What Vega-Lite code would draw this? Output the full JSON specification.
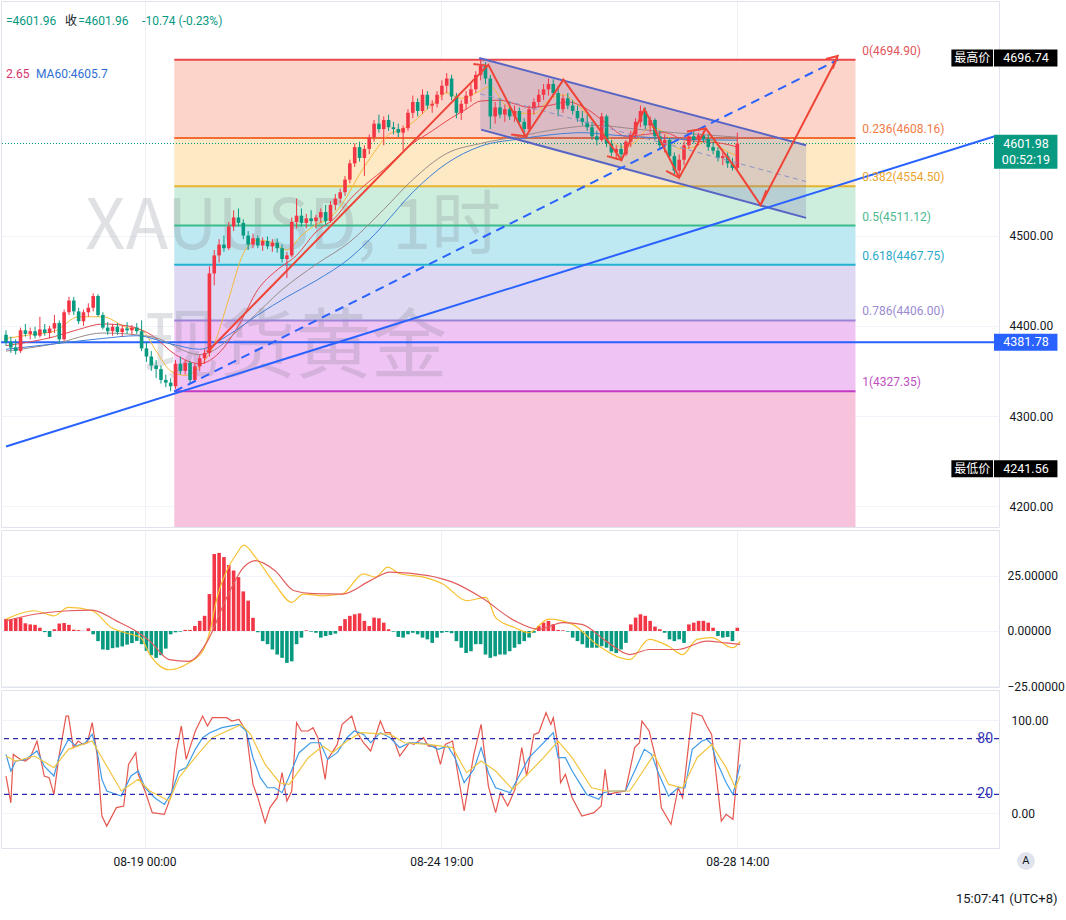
{
  "$schema": "https://vega.github.io/schema/vega-lite/v6.json",
  "padding": 0,
  "spacing": 3,
  "bounds": "flush",
  "background": "white",
  "config": {
    "view": {"stroke": "#e0e3eb", "strokeWidth": 1},
    "font": "Roboto, Noto Sans CJK SC",
    "axis": {"labelFont": "Roboto", "labelFontSize": 12, "labelColor": "#131722", "gridColor": "#f0f3fa", "domain": false, "ticks": false}
  },
  "datasets": {
    "candles": [
      {"i":0,"o":4390,"h":4395,"l":4378,"c":4382,"m":5.4},
      {"i":1,"o":4382,"h":4388,"l":4370,"c":4376,"m":5.4},
      {"i":2,"o":4376,"h":4385,"l":4368,"c":4372,"m":5.8},
      {"i":3,"o":4372,"h":4398,"l":4370,"c":4395,"m":6.1},
      {"i":4,"o":4395,"h":4402,"l":4388,"c":4391,"m":3.5},
      {"i":5,"o":4391,"h":4398,"l":4385,"c":4394,"m":3},
      {"i":6,"o":4394,"h":4399,"l":4386,"c":4389,"m":2.8},
      {"i":7,"o":4389,"h":4410,"l":4387,"c":4396,"m":1.5},
      {"i":8,"o":4396,"h":4402,"l":4389,"c":4392,"m":-0.5},
      {"i":9,"o":4392,"h":4400,"l":4386,"c":4397,"m":-2.7},
      {"i":10,"o":4397,"h":4412,"l":4392,"c":4403,"m":0.8},
      {"i":11,"o":4403,"h":4406,"l":4380,"c":4385,"m":3.4},
      {"i":12,"o":4385,"h":4418,"l":4383,"c":4415,"m":3.6},
      {"i":13,"o":4415,"h":4432,"l":4412,"c":4428,"m":2.8},
      {"i":14,"o":4428,"h":4432,"l":4412,"c":4416,"m":0.6},
      {"i":15,"o":4416,"h":4420,"l":4402,"c":4405,"m":0.4},
      {"i":16,"o":4405,"h":4418,"l":4400,"c":4415,"m":0.1},
      {"i":17,"o":4415,"h":4425,"l":4410,"c":4420,"m":1.2},
      {"i":18,"o":4420,"h":4436,"l":4416,"c":4433,"m":-1.5},
      {"i":19,"o":4433,"h":4435,"l":4410,"c":4412,"m":-4.6},
      {"i":20,"o":4412,"h":4415,"l":4396,"c":4398,"m":-8.4},
      {"i":21,"o":4398,"h":4404,"l":4390,"c":4394,"m":-8.6},
      {"i":22,"o":4394,"h":4402,"l":4389,"c":4399,"m":-7.8},
      {"i":23,"o":4399,"h":4403,"l":4390,"c":4393,"m":-7.5},
      {"i":24,"o":4393,"h":4400,"l":4388,"c":4397,"m":-7},
      {"i":25,"o":4397,"h":4404,"l":4391,"c":4395,"m":-6.2},
      {"i":26,"o":4395,"h":4401,"l":4390,"c":4398,"m":-5.5},
      {"i":27,"o":4398,"h":4403,"l":4391,"c":4394,"m":-4.5},
      {"i":28,"o":4394,"h":4406,"l":4372,"c":4375,"m":-6},
      {"i":29,"o":4375,"h":4382,"l":4360,"c":4366,"m":-9},
      {"i":30,"o":4366,"h":4372,"l":4350,"c":4356,"m":-11},
      {"i":31,"o":4356,"h":4362,"l":4342,"c":4352,"m":-12.2},
      {"i":32,"o":4352,"h":4356,"l":4336,"c":4340,"m":-11},
      {"i":33,"o":4340,"h":4346,"l":4332,"c":4337,"m":-8},
      {"i":34,"o":4337,"h":4342,"l":4327.4,"c":4333,"m":-1.5},
      {"i":35,"o":4333,"h":4362,"l":4330,"c":4358,"m":-0.6},
      {"i":36,"o":4358,"h":4366,"l":4346,"c":4350,"m":-0.3},
      {"i":37,"o":4350,"h":4362,"l":4346,"c":4359,"m":0.5},
      {"i":38,"o":4359,"h":4361,"l":4336,"c":4340,"m":0.5},
      {"i":39,"o":4340,"h":4358,"l":4338,"c":4355,"m":2.3},
      {"i":40,"o":4355,"h":4368,"l":4350,"c":4364,"m":4.6},
      {"i":41,"o":4364,"h":4374,"l":4358,"c":4370,"m":6.9},
      {"i":42,"o":4370,"h":4466,"l":4366,"c":4458,"m":16.8},
      {"i":43,"o":4458,"h":4484,"l":4445,"c":4478,"m":35},
      {"i":44,"o":4478,"h":4496,"l":4470,"c":4490,"m":35.5},
      {"i":45,"o":4490,"h":4500,"l":4482,"c":4486,"m":33.6},
      {"i":46,"o":4486,"h":4515,"l":4484,"c":4510,"m":30},
      {"i":47,"o":4510,"h":4528,"l":4505,"c":4520,"m":27.5},
      {"i":48,"o":4520,"h":4530,"l":4510,"c":4514,"m":24.5},
      {"i":49,"o":4514,"h":4518,"l":4496,"c":4500,"m":18},
      {"i":50,"o":4500,"h":4505,"l":4484,"c":4490,"m":13.8},
      {"i":51,"o":4490,"h":4502,"l":4486,"c":4497,"m":6},
      {"i":52,"o":4497,"h":4500,"l":4486,"c":4489,"m":-0.6},
      {"i":53,"o":4489,"h":4498,"l":4483,"c":4494,"m":-4.6},
      {"i":54,"o":4494,"h":4499,"l":4485,"c":4488,"m":-6},
      {"i":55,"o":4488,"h":4496,"l":4482,"c":4492,"m":-8.4},
      {"i":56,"o":4492,"h":4497,"l":4481,"c":4486,"m":-10.7},
      {"i":57,"o":4486,"h":4490,"l":4470,"c":4474,"m":-12.2},
      {"i":58,"o":4474,"h":4482,"l":4453,"c":4478,"m":-14.5},
      {"i":59,"o":4478,"h":4520,"l":4476,"c":4515,"m":-13.8},
      {"i":60,"o":4515,"h":4541,"l":4508,"c":4522,"m":-6},
      {"i":61,"o":4522,"h":4530,"l":4510,"c":4514,"m":-3},
      {"i":62,"o":4514,"h":4524,"l":4508,"c":4519,"m":0.3},
      {"i":63,"o":4519,"h":4528,"l":4512,"c":4516,"m":-0.3},
      {"i":64,"o":4516,"h":4523,"l":4508,"c":4520,"m":-0.8},
      {"i":65,"o":4520,"h":4530,"l":4514,"c":4526,"m":-3},
      {"i":66,"o":4526,"h":4534,"l":4512,"c":4516,"m":-2.3},
      {"i":67,"o":4516,"h":4538,"l":4514,"c":4534,"m":-1.8},
      {"i":68,"o":4534,"h":4546,"l":4528,"c":4541,"m":-1.2},
      {"i":69,"o":4541,"h":4552,"l":4536,"c":4548,"m":2.3},
      {"i":70,"o":4548,"h":4566,"l":4544,"c":4562,"m":5.4},
      {"i":71,"o":4562,"h":4584,"l":4558,"c":4580,"m":6.9},
      {"i":72,"o":4580,"h":4602,"l":4576,"c":4598,"m":7.6},
      {"i":73,"o":4598,"h":4604,"l":4582,"c":4586,"m":8},
      {"i":74,"o":4586,"h":4600,"l":4566,"c":4596,"m":4.6},
      {"i":75,"o":4596,"h":4612,"l":4590,"c":4609,"m":2.3},
      {"i":76,"o":4609,"h":4628,"l":4604,"c":4624,"m":6.1},
      {"i":77,"o":4624,"h":4634,"l":4614,"c":4618,"m":5.8},
      {"i":78,"o":4618,"h":4632,"l":4600,"c":4628,"m":3.8},
      {"i":79,"o":4628,"h":4634,"l":4616,"c":4620,"m":0.8},
      {"i":80,"o":4620,"h":4626,"l":4612,"c":4618,"m":-0.3},
      {"i":81,"o":4618,"h":4624,"l":4609,"c":4614,"m":-2.7},
      {"i":82,"o":4614,"h":4622,"l":4594,"c":4619,"m":-3},
      {"i":83,"o":4619,"h":4640,"l":4616,"c":4636,"m":-1.5},
      {"i":84,"o":4636,"h":4655,"l":4630,"c":4648,"m":-0.8},
      {"i":85,"o":4648,"h":4652,"l":4632,"c":4638,"m":-1.5},
      {"i":86,"o":4638,"h":4662,"l":4635,"c":4656,"m":-3},
      {"i":87,"o":4656,"h":4660,"l":4640,"c":4644,"m":-3.8},
      {"i":88,"o":4644,"h":4650,"l":4636,"c":4646,"m":-5.4},
      {"i":89,"o":4646,"h":4660,"l":4642,"c":4656,"m":-3},
      {"i":90,"o":4656,"h":4672,"l":4650,"c":4666,"m":-0.8},
      {"i":91,"o":4666,"h":4680,"l":4658,"c":4674,"m":-0.5},
      {"i":92,"o":4674,"h":4678,"l":4650,"c":4654,"m":-1},
      {"i":93,"o":4654,"h":4658,"l":4630,"c":4636,"m":-4.6},
      {"i":94,"o":4636,"h":4650,"l":4628,"c":4646,"m":-7.6},
      {"i":95,"o":4646,"h":4660,"l":4640,"c":4655,"m":-10},
      {"i":96,"o":4655,"h":4668,"l":4648,"c":4662,"m":-9.2},
      {"i":97,"o":4662,"h":4682,"l":4658,"c":4678,"m":-6},
      {"i":98,"o":4678,"h":4694.9,"l":4672,"c":4688,"m":-6},
      {"i":99,"o":4688,"h":4692,"l":4668,"c":4674,"m":-10.7},
      {"i":100,"o":4674,"h":4678,"l":4618,"c":4632,"m":-12.2},
      {"i":101,"o":4632,"h":4648,"l":4624,"c":4642,"m":-11.5},
      {"i":102,"o":4642,"h":4652,"l":4630,"c":4634,"m":-10.7},
      {"i":103,"o":4634,"h":4645,"l":4626,"c":4640,"m":-10.7},
      {"i":104,"o":4640,"h":4648,"l":4628,"c":4632,"m":-9.2},
      {"i":105,"o":4632,"h":4644,"l":4626,"c":4638,"m":-7.6},
      {"i":106,"o":4638,"h":4642,"l":4622,"c":4626,"m":-6},
      {"i":107,"o":4626,"h":4630,"l":4610,"c":4618,"m":-4.6},
      {"i":108,"o":4618,"h":4644,"l":4615,"c":4640,"m":-3},
      {"i":109,"o":4640,"h":4652,"l":4634,"c":4648,"m":-0.8},
      {"i":110,"o":4648,"h":4662,"l":4642,"c":4656,"m":2.3},
      {"i":111,"o":4656,"h":4668,"l":4650,"c":4662,"m":3.8},
      {"i":112,"o":4662,"h":4674,"l":4655,"c":4668,"m":4.6},
      {"i":113,"o":4668,"h":4673,"l":4654,"c":4658,"m":3.1},
      {"i":114,"o":4658,"h":4666,"l":4632,"c":4640,"m":0.5},
      {"i":115,"o":4640,"h":4656,"l":4636,"c":4652,"m":0.3},
      {"i":116,"o":4652,"h":4658,"l":4640,"c":4644,"m":-0.3},
      {"i":117,"o":4644,"h":4650,"l":4634,"c":4638,"m":-3},
      {"i":118,"o":4638,"h":4644,"l":4626,"c":4630,"m":-4.6},
      {"i":119,"o":4630,"h":4638,"l":4622,"c":4626,"m":-6},
      {"i":120,"o":4626,"h":4634,"l":4616,"c":4620,"m":-7.6},
      {"i":121,"o":4620,"h":4626,"l":4606,"c":4610,"m":-7.6},
      {"i":122,"o":4610,"h":4616,"l":4600,"c":4606,"m":-7.6},
      {"i":123,"o":4606,"h":4636,"l":4604,"c":4632,"m":-6.9},
      {"i":124,"o":4632,"h":4634,"l":4598,"c":4602,"m":-7.6},
      {"i":125,"o":4602,"h":4606,"l":4588,"c":4592,"m":-9.2},
      {"i":126,"o":4592,"h":4600,"l":4584,"c":4596,"m":-10},
      {"i":127,"o":4596,"h":4602,"l":4585,"c":4590,"m":-8.4},
      {"i":128,"o":4590,"h":4606,"l":4588,"c":4604,"m":-5.4},
      {"i":129,"o":4604,"h":4616,"l":4598,"c":4612,"m":3},
      {"i":130,"o":4612,"h":4630,"l":4608,"c":4626,"m":6.1},
      {"i":131,"o":4626,"h":4644,"l":4620,"c":4638,"m":7.6},
      {"i":132,"o":4638,"h":4642,"l":4618,"c":4622,"m":6.9},
      {"i":133,"o":4622,"h":4632,"l":4614,"c":4628,"m":4.6},
      {"i":134,"o":4628,"h":4630,"l":4606,"c":4610,"m":2},
      {"i":135,"o":4610,"h":4616,"l":4596,"c":4600,"m":0.8},
      {"i":136,"o":4600,"h":4612,"l":4592,"c":4606,"m":-0.8},
      {"i":137,"o":4606,"h":4608,"l":4584,"c":4588,"m":-3.8},
      {"i":138,"o":4588,"h":4592,"l":4566,"c":4572,"m":-4.6},
      {"i":139,"o":4572,"h":4590,"l":4564,"c":4584,"m":-3.8},
      {"i":140,"o":4584,"h":4604,"l":4578,"c":4600,"m":-5.4},
      {"i":141,"o":4600,"h":4614,"l":4596,"c":4610,"m":3},
      {"i":142,"o":4610,"h":4616,"l":4602,"c":4606,"m":3.8},
      {"i":143,"o":4606,"h":4614,"l":4600,"c":4611,"m":4.6},
      {"i":144,"o":4611,"h":4616,"l":4603,"c":4607,"m":4.6},
      {"i":145,"o":4607,"h":4612,"l":4594,"c":4598,"m":3.8},
      {"i":146,"o":4598,"h":4604,"l":4590,"c":4594,"m":1.5},
      {"i":147,"o":4594,"h":4598,"l":4582,"c":4586,"m":-2.3},
      {"i":148,"o":4586,"h":4592,"l":4578,"c":4588,"m":-3},
      {"i":149,"o":4588,"h":4592,"l":4575,"c":4580,"m":-2.7},
      {"i":150,"o":4580,"h":4586,"l":4572,"c":4575,"m":-4.6},
      {"i":151,"o":4575,"h":4614,"l":4572,"c":4601.96,"m":1.5}
    ],
    "ma": [
      {"s":"y","i":0,"p":4386},{"s":"y","i":5,"p":4390},{"s":"y","i":10,"p":4394},{"s":"y","i":15,"p":4410},{"s":"y","i":20,"p":4410},{"s":"y","i":25,"p":4398},{"s":"y","i":28,"p":4395},{"s":"y","i":31,"p":4372},{"s":"y","i":34,"p":4350},{"s":"y","i":37,"p":4345},{"s":"y","i":40,"p":4355},{"s":"y","i":43,"p":4380},{"s":"y","i":46,"p":4430},{"s":"y","i":49,"p":4480},{"s":"y","i":52,"p":4495},{"s":"y","i":55,"p":4492},{"s":"y","i":58,"p":4484},{"s":"y","i":61,"p":4500},{"s":"y","i":64,"p":4512},{"s":"y","i":67,"p":4520},{"s":"y","i":70,"p":4540},{"s":"y","i":73,"p":4568},{"s":"y","i":76,"p":4592},{"s":"y","i":79,"p":4612},{"s":"y","i":82,"p":4618},{"s":"y","i":85,"p":4630},{"s":"y","i":88,"p":4645},{"s":"y","i":91,"p":4658},{"s":"y","i":94,"p":4652},{"s":"y","i":97,"p":4658},{"s":"y","i":100,"p":4665},{"s":"y","i":103,"p":4645},{"s":"y","i":106,"p":4636},{"s":"y","i":109,"p":4635},{"s":"y","i":112,"p":4650},{"s":"y","i":115,"p":4656},{"s":"y","i":118,"p":4645},{"s":"y","i":121,"p":4628},{"s":"y","i":124,"p":4612},{"s":"y","i":127,"p":4598},{"s":"y","i":130,"p":4604},{"s":"y","i":133,"p":4620},{"s":"y","i":136,"p":4614},{"s":"y","i":139,"p":4596},{"s":"y","i":142,"p":4598},{"s":"y","i":145,"p":4606},{"s":"y","i":148,"p":4596},{"s":"y","i":151,"p":4588},
      {"s":"r","i":0,"p":4378},{"s":"r","i":10,"p":4388},{"s":"r","i":15,"p":4396},{"s":"r","i":20,"p":4402},{"s":"r","i":25,"p":4400},{"s":"r","i":30,"p":4390},{"s":"r","i":35,"p":4368},{"s":"r","i":40,"p":4358},{"s":"r","i":44,"p":4370},{"s":"r","i":48,"p":4400},{"s":"r","i":52,"p":4440},{"s":"r","i":56,"p":4462},{"s":"r","i":60,"p":4478},{"s":"r","i":64,"p":4504},{"s":"r","i":68,"p":4520},{"s":"r","i":71,"p":4540},{"s":"r","i":75,"p":4560},{"s":"r","i":78,"p":4573},{"s":"r","i":81,"p":4588},{"s":"r","i":84,"p":4602},{"s":"r","i":88,"p":4616},{"s":"r","i":91,"p":4627},{"s":"r","i":95,"p":4640},{"s":"r","i":98,"p":4649},{"s":"r","i":102,"p":4650},{"s":"r","i":105,"p":4646},{"s":"r","i":108,"p":4642},{"s":"r","i":112,"p":4644},{"s":"r","i":116,"p":4648},{"s":"r","i":120,"p":4640},{"s":"r","i":124,"p":4624},{"s":"r","i":128,"p":4610},{"s":"r","i":132,"p":4612},{"s":"r","i":136,"p":4614},{"s":"r","i":140,"p":4606},{"s":"r","i":144,"p":4604},{"s":"r","i":148,"p":4602},{"s":"r","i":151,"p":4598},
      {"s":"g","i":0,"p":4372},{"s":"g","i":10,"p":4380},{"s":"g","i":20,"p":4392},{"s":"g","i":30,"p":4388},{"s":"g","i":40,"p":4368},{"s":"g","i":50,"p":4405},{"s":"g","i":57,"p":4440},{"s":"g","i":64,"p":4468},{"s":"g","i":71,"p":4493},{"s":"g","i":78,"p":4529},{"s":"g","i":84,"p":4562},{"s":"g","i":91,"p":4591},{"s":"g","i":98,"p":4602},{"s":"g","i":106,"p":4610},{"s":"g","i":114,"p":4618},{"s":"g","i":122,"p":4622},{"s":"g","i":130,"p":4618},{"s":"g","i":138,"p":4614},{"s":"g","i":146,"p":4611},{"s":"g","i":151,"p":4609},
      {"s":"b","i":0,"p":4374},{"s":"b","i":10,"p":4380},{"s":"b","i":20,"p":4386},{"s":"b","i":27,"p":4389},{"s":"b","i":34,"p":4380},{"s":"b","i":40,"p":4374},{"s":"b","i":46,"p":4390},{"s":"b","i":52,"p":4412},{"s":"b","i":58,"p":4432},{"s":"b","i":64,"p":4450},{"s":"b","i":71,"p":4475},{"s":"b","i":78,"p":4512},{"s":"b","i":84,"p":4548},{"s":"b","i":91,"p":4580},{"s":"b","i":98,"p":4599},{"s":"b","i":106,"p":4607},{"s":"b","i":113,"p":4612},{"s":"b","i":119,"p":4614},{"s":"b","i":126,"p":4611},{"s":"b","i":132,"p":4609},{"s":"b","i":138,"p":4607},{"s":"b","i":145,"p":4606},{"s":"b","i":151,"p":4605.7}
    ],
    "macdl": [
      {"s":"dif","i":0,"v":5.4},{"s":"dif","i":5.9,"v":9.2},{"s":"dif","i":9.9,"v":6.9},{"s":"dif","i":12.9,"v":10.7},{"s":"dif","i":17.8,"v":9.2},{"s":"dif","i":21.8,"v":1.5},{"s":"dif","i":25.8,"v":-1.5},{"s":"dif","i":27.8,"v":-3},{"s":"dif","i":29.7,"v":-10.7},{"s":"dif","i":33.7,"v":-17.6},{"s":"dif","i":37.7,"v":-14.5},{"s":"dif","i":40.6,"v":-9.2},{"s":"dif","i":42.1,"v":0},{"s":"dif","i":43.6,"v":15.3},{"s":"dif","i":45.6,"v":27.5},{"s":"dif","i":47.6,"v":35},{"s":"dif","i":49.1,"v":39},{"s":"dif","i":51.5,"v":33.6},{"s":"dif","i":55.5,"v":21.4},{"s":"dif","i":59,"v":13},{"s":"dif","i":61.4,"v":16.8},{"s":"dif","i":65.4,"v":16},{"s":"dif","i":69.4,"v":16.8},{"s":"dif","i":73.8,"v":26},{"s":"dif","i":76.3,"v":24.5},{"s":"dif","i":78.8,"v":29},{"s":"dif","i":81.3,"v":26},{"s":"dif","i":86.2,"v":24.5},{"s":"dif","i":90.2,"v":21.4},{"s":"dif","i":95.1,"v":13.8},{"s":"dif","i":99.1,"v":15.3},{"s":"dif","i":101.1,"v":6.1},{"s":"dif","i":105.1,"v":1.5},{"s":"dif","i":108,"v":-0.8},{"s":"dif","i":112,"v":5.4},{"s":"dif","i":117,"v":3},{"s":"dif","i":121.9,"v":-6},{"s":"dif","i":126.9,"v":-12.2},{"s":"dif","i":128.8,"v":-13},{"s":"dif","i":132.8,"v":-3.8},{"s":"dif","i":136.8,"v":-6.9},{"s":"dif","i":139.7,"v":-10.7},{"s":"dif","i":142.7,"v":-3.8},{"s":"dif","i":145.7,"v":-3},{"s":"dif","i":150.1,"v":-7.6},{"s":"dif","i":151.6,"v":-4.6},
      {"s":"dea","i":0,"v":4.6},{"s":"dea","i":5.9,"v":7.6},{"s":"dea","i":12.9,"v":9.2},{"s":"dea","i":17.8,"v":9.5},{"s":"dea","i":22.8,"v":4.6},{"s":"dea","i":26.8,"v":0},{"s":"dea","i":29.7,"v":-4.6},{"s":"dea","i":33.7,"v":-13},{"s":"dea","i":37.7,"v":-13.8},{"s":"dea","i":41.6,"v":-4.6},{"s":"dea","i":45.6,"v":15.3},{"s":"dea","i":49.1,"v":29},{"s":"dea","i":51.5,"v":32},{"s":"dea","i":55.5,"v":27.5},{"s":"dea","i":59.5,"v":18.3},{"s":"dea","i":63.4,"v":17},{"s":"dea","i":69.4,"v":16.8},{"s":"dea","i":75.3,"v":23},{"s":"dea","i":79.3,"v":26.8},{"s":"dea","i":87.2,"v":25.2},{"s":"dea","i":92.2,"v":22.2},{"s":"dea","i":98.1,"v":15.3},{"s":"dea","i":105.1,"v":4.6},{"s":"dea","i":110,"v":0.8},{"s":"dea","i":115,"v":3.8},{"s":"dea","i":118.9,"v":3},{"s":"dea","i":123.9,"v":-4.6},{"s":"dea","i":128.8,"v":-10.7},{"s":"dea","i":132.8,"v":-8.4},{"s":"dea","i":138.8,"v":-8.4},{"s":"dea","i":144.7,"v":-4.6},{"s":"dea","i":148.7,"v":-5.4},{"s":"dea","i":151.6,"v":-6.1}
    ],
    "stoch": [
      {"s":"J","i":0,"v":39.8},{"s":"J","i":1,"v":11},{"s":"J","i":1.5,"v":63},{"s":"J","i":3,"v":57.7},{"s":"J","i":4,"v":55.9},{"s":"J","i":5,"v":59.5},{"s":"J","i":6.4,"v":77.4},{"s":"J","i":7.9,"v":39.8},{"s":"J","i":8.9,"v":38},{"s":"J","i":9.9,"v":20},{"s":"J","i":10.9,"v":59.5},{"s":"J","i":12.4,"v":104.3},{"s":"J","i":12.9,"v":104.3},{"s":"J","i":13.9,"v":70.3},{"s":"J","i":14.9,"v":77.4},{"s":"J","i":15.9,"v":73.8},{"s":"J","i":16.8,"v":75.6},{"s":"J","i":17.8,"v":97.2},{"s":"J","i":18.8,"v":63.1},{"s":"J","i":19.8,"v":-3.2},{"s":"J","i":20.8,"v":-14},{"s":"J","i":22.8,"v":5.8},{"s":"J","i":24.3,"v":7.6},{"s":"J","i":25.3,"v":52.3},{"s":"J","i":26.8,"v":64.9},{"s":"J","i":27.3,"v":41.6},{"s":"J","i":28.7,"v":23.7},{"s":"J","i":30.2,"v":0.4},{"s":"J","i":32.7,"v":-1.4},{"s":"J","i":34.2,"v":20},{"s":"J","i":35.2,"v":66.7},{"s":"J","i":36.2,"v":93.6},{"s":"J","i":37.2,"v":57.7},{"s":"J","i":38.2,"v":73.8},{"s":"J","i":39.1,"v":88.2},{"s":"J","i":40.6,"v":104.3},{"s":"J","i":41.6,"v":93.6},{"s":"J","i":42.6,"v":102.5},{"s":"J","i":45.6,"v":102.5},{"s":"J","i":46.6,"v":98.9},{"s":"J","i":48.1,"v":100.7},{"s":"J","i":49.6,"v":88.2},{"s":"J","i":51,"v":30.8},{"s":"J","i":52,"v":16.5},{"s":"J","i":53.5,"v":-10.4},{"s":"J","i":54.5,"v":5.8},{"s":"J","i":56,"v":16.5},{"s":"J","i":57,"v":43.4},{"s":"J","i":58,"v":12.9},{"s":"J","i":59,"v":23.7},{"s":"J","i":60,"v":97.2},{"s":"J","i":61,"v":88.2},{"s":"J","i":62.4,"v":88.2},{"s":"J","i":63.4,"v":91.8},{"s":"J","i":64.4,"v":81},{"s":"J","i":65.9,"v":36.2},{"s":"J","i":66.4,"v":57.7},{"s":"J","i":68.4,"v":73.8},{"s":"J","i":69.4,"v":95.3},{"s":"J","i":71.4,"v":104.3},{"s":"J","i":72.3,"v":88.2},{"s":"J","i":73.8,"v":75.6},{"s":"J","i":75.3,"v":66.7},{"s":"J","i":77.3,"v":98.9},{"s":"J","i":78.3,"v":86.4},{"s":"J","i":79.3,"v":86.4},{"s":"J","i":80.3,"v":75.6},{"s":"J","i":81.3,"v":61.3},{"s":"J","i":82.3,"v":68.5},{"s":"J","i":83.3,"v":75.6},{"s":"J","i":84.2,"v":73.8},{"s":"J","i":86.2,"v":81},{"s":"J","i":87.2,"v":72},{"s":"J","i":88.7,"v":72},{"s":"J","i":89.7,"v":52.3},{"s":"J","i":90.7,"v":73.8},{"s":"J","i":92.2,"v":77.4},{"s":"J","i":93.2,"v":45.2},{"s":"J","i":94.6,"v":2.2},{"s":"J","i":96.6,"v":63.1},{"s":"J","i":98.1,"v":95.3},{"s":"J","i":99.6,"v":29},{"s":"J","i":101.1,"v":0.4},{"s":"J","i":102.1,"v":21.9},{"s":"J","i":103.6,"v":7.6},{"s":"J","i":105.1,"v":25.5},{"s":"J","i":106.5,"v":70.3},{"s":"J","i":107.5,"v":39.8},{"s":"J","i":109,"v":84.6},{"s":"J","i":110,"v":86.4},{"s":"J","i":111.5,"v":107.9},{"s":"J","i":112.5,"v":95.3},{"s":"J","i":113,"v":102.5},{"s":"J","i":114,"v":72},{"s":"J","i":114.5,"v":32.6},{"s":"J","i":115.5,"v":41.6},{"s":"J","i":116.9,"v":16.5},{"s":"J","i":118.9,"v":-3.2},{"s":"J","i":121.4,"v":0.4},{"s":"J","i":122.9,"v":7.6},{"s":"J","i":123.7,"v":47},{"s":"J","i":124.4,"v":20},{"s":"J","i":125.9,"v":21.9},{"s":"J","i":127.9,"v":23.7},{"s":"J","i":129.8,"v":70.3},{"s":"J","i":130.8,"v":75.6},{"s":"J","i":131.3,"v":98.9},{"s":"J","i":132.8,"v":88.2},{"s":"J","i":134.3,"v":55.9},{"s":"J","i":135.3,"v":5.8},{"s":"J","i":137.3,"v":-12.2},{"s":"J","i":138.8,"v":27.2},{"s":"J","i":139.7,"v":16.5},{"s":"J","i":141.7,"v":107.9},{"s":"J","i":143.7,"v":104.3},{"s":"J","i":144.7,"v":93.6},{"s":"J","i":145.7,"v":84.6},{"s":"J","i":146.7,"v":38},{"s":"J","i":147.7,"v":-8.6},{"s":"J","i":148.7,"v":-1.4},{"s":"J","i":150.1,"v":-6.8},{"s":"J","i":151.6,"v":79.3},
      {"s":"K","i":0,"v":63.1},{"s":"K","i":1,"v":45.2},{"s":"K","i":2,"v":55.9},{"s":"K","i":4,"v":57.7},{"s":"K","i":6.4,"v":66.7},{"s":"K","i":7.9,"v":50.5},{"s":"K","i":9.9,"v":39.8},{"s":"K","i":10.9,"v":59.5},{"s":"K","i":12.9,"v":79.3},{"s":"K","i":14.4,"v":72},{"s":"K","i":16.4,"v":75.6},{"s":"K","i":17.8,"v":84.6},{"s":"K","i":18.8,"v":66.7},{"s":"K","i":19.8,"v":36.2},{"s":"K","i":20.8,"v":23.7},{"s":"K","i":23.8,"v":18.3},{"s":"K","i":25.8,"v":39.8},{"s":"K","i":27.3,"v":45.2},{"s":"K","i":28.7,"v":27.2},{"s":"K","i":30.7,"v":16.5},{"s":"K","i":32.7,"v":9.3},{"s":"K","i":34.2,"v":21.9},{"s":"K","i":35.7,"v":45.2},{"s":"K","i":37.2,"v":48.8},{"s":"K","i":39.1,"v":68.5},{"s":"K","i":40.6,"v":81},{"s":"K","i":42.1,"v":86.4},{"s":"K","i":44.6,"v":91.8},{"s":"K","i":48.1,"v":95.3},{"s":"K","i":49.6,"v":88.2},{"s":"K","i":51,"v":59.5},{"s":"K","i":52.5,"v":38},{"s":"K","i":54,"v":27.2},{"s":"K","i":55.5,"v":27.2},{"s":"K","i":57,"v":21.9},{"s":"K","i":58.5,"v":39.8},{"s":"K","i":60.5,"v":64.9},{"s":"K","i":62.9,"v":75.6},{"s":"K","i":64.9,"v":75.6},{"s":"K","i":66.4,"v":57.7},{"s":"K","i":68.4,"v":64.9},{"s":"K","i":70.4,"v":81},{"s":"K","i":71.9,"v":88.2},{"s":"K","i":73.8,"v":84.6},{"s":"K","i":75.3,"v":75.6},{"s":"K","i":77.3,"v":86.4},{"s":"K","i":79.3,"v":81},{"s":"K","i":81.3,"v":70.3},{"s":"K","i":83.3,"v":75.6},{"s":"K","i":85.2,"v":75.6},{"s":"K","i":87.2,"v":73.8},{"s":"K","i":89.2,"v":68.5},{"s":"K","i":91.2,"v":72},{"s":"K","i":92.7,"v":59.5},{"s":"K","i":94.6,"v":32.6},{"s":"K","i":96.6,"v":47},{"s":"K","i":98.1,"v":70.3},{"s":"K","i":99.6,"v":43.4},{"s":"K","i":101.1,"v":27.2},{"s":"K","i":104.1,"v":21.9},{"s":"K","i":106.5,"v":45.2},{"s":"K","i":108,"v":59.5},{"s":"K","i":110,"v":70.3},{"s":"K","i":112,"v":81},{"s":"K","i":113,"v":86.4},{"s":"K","i":114,"v":59.5},{"s":"K","i":115.5,"v":59.5},{"s":"K","i":116.9,"v":45.2},{"s":"K","i":119.9,"v":20},{"s":"K","i":122.4,"v":14.7},{"s":"K","i":123.4,"v":21.9},{"s":"K","i":124.9,"v":23.7},{"s":"K","i":127.9,"v":23.7},{"s":"K","i":129.8,"v":45.2},{"s":"K","i":131.8,"v":68.5},{"s":"K","i":133.3,"v":63.1},{"s":"K","i":134.8,"v":41.6},{"s":"K","i":136.8,"v":18.3},{"s":"K","i":138.8,"v":27.2},{"s":"K","i":140.2,"v":27.2},{"s":"K","i":141.7,"v":68.5},{"s":"K","i":143.7,"v":77.4},{"s":"K","i":144.7,"v":79.3},{"s":"K","i":145.7,"v":73.8},{"s":"K","i":146.7,"v":55.9},{"s":"K","i":148.7,"v":32.6},{"s":"K","i":150.1,"v":20},{"s":"K","i":151.6,"v":52.3},
      {"s":"D","i":0,"v":61.3},{"s":"D","i":2,"v":55.9},{"s":"D","i":5.9,"v":61.3},{"s":"D","i":9.9,"v":48.8},{"s":"D","i":12.9,"v":68.5},{"s":"D","i":17.8,"v":77.4},{"s":"D","i":19.8,"v":59.5},{"s":"D","i":23.8,"v":23.7},{"s":"D","i":27.3,"v":36.2},{"s":"D","i":29.7,"v":23.7},{"s":"D","i":33.7,"v":12.9},{"s":"D","i":35.7,"v":38},{"s":"D","i":39.6,"v":63.1},{"s":"D","i":42.6,"v":81},{"s":"D","i":48.6,"v":95.3},{"s":"D","i":50.5,"v":84.6},{"s":"D","i":53.5,"v":52.3},{"s":"D","i":56.5,"v":32.6},{"s":"D","i":58.5,"v":30.8},{"s":"D","i":62.4,"v":59.5},{"s":"D","i":65.4,"v":72},{"s":"D","i":67.4,"v":64.9},{"s":"D","i":70.4,"v":77.4},{"s":"D","i":73.3,"v":86.4},{"s":"D","i":79.3,"v":84.6},{"s":"D","i":82.3,"v":75.6},{"s":"D","i":87.2,"v":73.8},{"s":"D","i":92.2,"v":70.3},{"s":"D","i":95.1,"v":43.4},{"s":"D","i":98.1,"v":55.9},{"s":"D","i":101.1,"v":45.2},{"s":"D","i":104.6,"v":25.5},{"s":"D","i":108,"v":43.4},{"s":"D","i":111,"v":59.5},{"s":"D","i":114,"v":77.4},{"s":"D","i":116.9,"v":59.5},{"s":"D","i":120.9,"v":27.2},{"s":"D","i":123.9,"v":23.7},{"s":"D","i":128.8,"v":23.7},{"s":"D","i":133.8,"v":63.1},{"s":"D","i":136.8,"v":30.8},{"s":"D","i":139.7,"v":27.2},{"s":"D","i":142.7,"v":59.5},{"s":"D","i":145.7,"v":73.8},{"s":"D","i":148.7,"v":48.8},{"s":"D","i":150.6,"v":27.2},{"s":"D","i":151.6,"v":39.8}
    ],
    "fibb": [
      {"b":"a","p1":4694.90,"p2":4608.16},{"b":"b","p1":4608.16,"p2":4554.50},{"b":"c","p1":4554.50,"p2":4511.12},{"b":"d","p1":4511.12,"p2":4467.75},{"b":"e","p1":4467.75,"p2":4406.00},{"b":"f","p1":4406.00,"p2":4327.35},{"b":"g","p1":4327.35,"p2":4100.2}
    ],
    "fibl": [
      {"lv":"0","p":4694.90,"t":"0(4694.90)"},{"lv":"0.236","p":4608.16,"t":"0.236(4608.16)"},{"lv":"0.382","p":4554.50,"t":"0.382(4554.50)"},{"lv":"0.5","p":4511.12,"t":"0.5(4511.12)"},{"lv":"0.618","p":4467.75,"t":"0.618(4467.75)"},{"lv":"0.786","p":4406.00,"t":"0.786(4406.00)"},{"lv":"1","p":4327.35,"t":"1(4327.35)"}
    ],
    "chan": [
      {"s":"u","i":97.7,"p":4696.7},{"s":"u","i":165.2,"p":4600},{"s":"d","i":98.1,"p":4617.4},{"s":"d","i":165.2,"p":4519.6}
    ],
    "red": [
      {"g":"z","n":0,"i":41.5,"p":4370.7},{"g":"z","n":1,"i":99.6,"p":4689.1},{"g":"z","n":2,"i":107.3,"p":4609.8},{"g":"z","n":3,"i":115.1,"p":4672.8},{"g":"z","n":4,"i":127.1,"p":4583.7},{"g":"z","n":5,"i":131.8,"p":4640.2},{"g":"z","n":6,"i":139,"p":4564.1},{"g":"z","n":7,"i":144.5,"p":4618.5},{"g":"z","n":8,"i":150.9,"p":4572.8},{"g":"z","n":9,"i":155.8,"p":4533.7},{"g":"z","n":10,"i":171.7,"p":4697.8},
      {"g":"a1","n":0,"i":96.5,"p":4690.2},{"g":"a1","n":1,"i":99.75,"p":4688},
      {"g":"a2","n":0,"i":104.3,"p":4612},{"g":"a2","n":1,"i":107.7,"p":4609.8},
      {"g":"a3","n":0,"i":124.1,"p":4588},{"g":"a3","n":1,"i":127.1,"p":4583.7},
      {"g":"a4","n":0,"i":136.3,"p":4571.7},{"g":"a4","n":1,"i":139,"p":4564.1},
      {"g":"a5","n":0,"i":140.6,"p":4615.2},{"g":"a5","n":1,"i":144.5,"p":4618.5},
      {"g":"a6","n":0,"i":155.8,"p":4533.7},{"g":"a6","n":1,"i":157,"p":4550},
      {"g":"a7","n":0,"i":169.3,"p":4695.7},{"g":"a7","n":1,"i":171.7,"p":4698.9},{"g":"a7","n":2,"i":170.7,"p":4684.8}
    ],
    "hdr": [
      {"k":"g","t":"=4601.96","i":0,"p":4738},{"k":"k","t":"收","i":12.2,"p":4738},{"k":"g","t":"=4601.96","i":14.9,"p":4738},{"k":"g","t":"-10.74 (-0.23%)","i":28.1,"p":4738},
      {"k":"m","t":"2.65","i":0,"p":4679.3},{"k":"b","t":"MA60:4605.7","i":6.2,"p":4679.3}
    ],
    "tags": [
      {"k":"hi","p":4696.74,"t":"4696.74","n":"最高价"},{"k":"lo","p":4241.56,"t":"4241.56","n":"最低价"},{"k":"ln","p":4381.78,"t":"4381.78","n":""}
    ]
  },
  "resolve": {"scale": {"x": "shared", "color": "independent"}},
  "vconcat": [
    {
      "width": 998,
      "height": 526,
      "resolve": {"scale": {"color": "independent"}},
      "layer": [
        {
          "data": {"name": "fibb"},
          "mark": {"type": "rect", "clip": true},
          "encoding": {
            "x": {"datum": 34.75, "type": "quantitative", "scale": {"domain": [0, 204], "nice": false, "zero": false},
              "axis": {"title": null, "values": [28.6, 89.9, 151], "labels": false, "grid": true, "gridColor": "#eef0f4"}},
            "x2": {"datum": 175.4},
            "y": {"field": "p1", "type": "quantitative", "scale": {"domain": [4182.6, 4754.35], "nice": false, "zero": false},
              "axis": {"title": null, "orient": "right", "values": [4200, 4300, 4400, 4500], "format": ".2f", "labelPadding": 10, "grid": true, "labelOverlap": false, "labelBound": false, "labelFlush": false}},
            "y2": {"field": "p2"},
            "color": {"field": "b", "type": "nominal", "legend": null,
              "scale": {"domain": ["a","b","c","d","e","f","g"], "range": ["#fdd4ca","#fde9c3","#cdeedd","#bfe9f2","#ded8f3","#f0c3f5","#f6c2dc"]}}
          }
        },
        {
          "data": {"values": [{"t": "XAUUSD, 1时"}]},
          "mark": {"type": "text", "font": "Noto Sans CJK SC", "fontSize": 70, "color": "#787b86", "opacity": 0.22},
          "encoding": {"x": {"datum": 59.3, "type": "quantitative"}, "y": {"datum": 4508.7, "type": "quantitative"}, "text": {"field": "t"}}
        },
        {
          "data": {"values": [{"t": "现货黄金"}]},
          "mark": {"type": "text", "font": "Noto Sans CJK SC", "fontSize": 76, "color": "#787b86", "opacity": 0.22},
          "encoding": {"x": {"datum": 59.7, "type": "quantitative"}, "y": {"datum": 4373.9, "type": "quantitative"}, "text": {"field": "t"}}
        },
        {
          "data": {"name": "fibl"},
          "mark": {"type": "rule", "strokeWidth": 2},
          "encoding": {
            "x": {"datum": 34.75, "type": "quantitative"},
            "x2": {"datum": 175.4},
            "y": {"field": "p", "type": "quantitative"},
            "color": {"field": "lv", "type": "nominal", "legend": null,
              "scale": {"domain": ["0","0.236","0.382","0.5","0.618","0.786","1"], "range": ["#e8474c","#f26b35","#e8b430","#3dbb8c","#1fb3cf","#9c83d6","#c43bc4"]}}
          }
        },
        {
          "data": {"values": [{"i": 97.9, "u": 4696.7, "d": 4617.4}, {"i": 165.2, "u": 4600, "d": 4519.6}]},
          "mark": {"type": "area", "color": "#6a5fb0", "opacity": 0.22},
          "encoding": {
            "x": {"field": "i", "type": "quantitative"},
            "y": {"field": "u", "type": "quantitative"},
            "y2": {"field": "d"}
          }
        },
        {
          "data": {"values": [{"p": 4381.78}]},
          "mark": {"type": "rule", "color": "#2962ff", "strokeWidth": 2, "clip": true},
          "encoding": {"y": {"field": "p", "type": "quantitative"}}
        },
        {
          "data": {"values": [{"p": 4601.98}]},
          "mark": {"type": "rule", "color": "#089981", "strokeWidth": 1, "strokeDash": [1, 2], "clip": true},
          "encoding": {"y": {"field": "p", "type": "quantitative"}}
        },
        {
          "data": {"name": "ma"},
          "mark": {"type": "line", "strokeWidth": 1, "interpolate": "monotone", "clip": true},
          "encoding": {
            "x": {"field": "i", "type": "quantitative"},
            "y": {"field": "p", "type": "quantitative"},
            "color": {"field": "s", "type": "nominal", "legend": null,
              "scale": {"domain": ["y","r","g","b"], "range": ["#f5b83a","#e4474f","#9a8a8a","#3f7fd8"]}}
          }
        },
        {
          "data": {"name": "candles"},
          "mark": {"type": "rule", "strokeWidth": 1, "clip": true},
          "encoding": {
            "x": {"field": "i", "type": "quantitative"},
            "y": {"field": "l", "type": "quantitative"},
            "y2": {"field": "h"},
            "color": {"condition": {"test": "datum.c >= datum.o", "value": "#f23645"}, "value": "#089981"}
          }
        },
        {
          "data": {"name": "candles"},
          "mark": {"type": "bar", "size": 3.6, "clip": true},
          "encoding": {
            "x": {"field": "i", "type": "quantitative"},
            "y": {"field": "o", "type": "quantitative"},
            "y2": {"field": "c"},
            "color": {"condition": {"test": "datum.c >= datum.o", "value": "#f23645"}, "value": "#089981"}
          }
        },
        {
          "data": {"name": "chan"},
          "mark": {"type": "line", "color": "#5865c4", "strokeWidth": 2},
          "encoding": {
            "x": {"field": "i", "type": "quantitative"},
            "y": {"field": "p", "type": "quantitative"},
            "detail": {"field": "s"}
          }
        },
        {
          "data": {"values": [{"i": 97.9, "p": 4657}, {"i": 165.2, "p": 4559.8}]},
          "mark": {"type": "line", "color": "#8d93c6", "strokeWidth": 1, "strokeDash": [5, 4]},
          "encoding": {
            "x": {"field": "i", "type": "quantitative"},
            "y": {"field": "p", "type": "quantitative"}
          }
        },
        {
          "data": {"values": [{"i": 0, "p": 4266.3}, {"i": 204, "p": 4609.8}]},
          "mark": {"type": "line", "color": "#2962ff", "strokeWidth": 2, "clip": true},
          "encoding": {
            "x": {"field": "i", "type": "quantitative"},
            "y": {"field": "p", "type": "quantitative"}
          }
        },
        {
          "data": {"values": [{"i": 34.75, "p": 4327.2}, {"i": 171.7, "p": 4694.6}]},
          "mark": {"type": "line", "color": "#2962ff", "strokeWidth": 2, "strokeDash": [9, 6]},
          "encoding": {
            "x": {"field": "i", "type": "quantitative"},
            "y": {"field": "p", "type": "quantitative"}
          }
        },
        {
          "data": {"name": "red"},
          "mark": {"type": "line", "color": "#ef4438", "strokeWidth": 2},
          "encoding": {
            "x": {"field": "i", "type": "quantitative"},
            "y": {"field": "p", "type": "quantitative"},
            "detail": {"field": "g"},
            "order": {"field": "n"}
          }
        },
        {
          "data": {"name": "fibl"},
          "mark": {"type": "text", "align": "left", "baseline": "bottom", "dy": -2, "fontSize": 12},
          "encoding": {
            "x": {"datum": 176.8, "type": "quantitative"},
            "y": {"field": "p", "type": "quantitative"},
            "text": {"field": "t"},
            "color": {"field": "lv", "type": "nominal", "legend": null,
              "scale": {"domain": ["0","0.236","0.382","0.5","0.618","0.786","1"], "range": ["#e0555a","#f07a48","#eaa52c","#4db890","#2aa8c8","#9a8ad0","#c050c0"]}}
          }
        },
        {
          "data": {"name": "hdr"},
          "mark": {"type": "text", "align": "left", "baseline": "middle", "fontSize": 12, "font": "Roboto, Noto Sans CJK SC"},
          "encoding": {
            "x": {"field": "i", "type": "quantitative"},
            "y": {"field": "p", "type": "quantitative"},
            "text": {"field": "t"},
            "color": {"field": "k", "type": "nominal", "legend": null,
              "scale": {"domain": ["g","k","m","b"], "range": ["#089981","#131722","#d6336c","#2f6fd1"]}}
          }
        },
        {
          "data": {"name": "tags"},
          "mark": {"type": "bar", "orient": "horizontal", "size": 17},
          "encoding": {
            "x": {"datum": 204, "type": "quantitative"},
            "x2": {"datum": 217.1},
            "y": {"field": "p", "type": "quantitative"},
            "color": {"field": "k", "type": "nominal", "legend": null,
              "scale": {"domain": ["hi","lo","ln"], "range": ["#000000","#000000","#2962ff"]}}
          }
        },
        {
          "data": {"name": "tags"},
          "transform": [{"filter": "datum.n != ''"}],
          "mark": {"type": "bar", "orient": "horizontal", "size": 17, "color": "#000000"},
          "encoding": {
            "x": {"datum": 195.2, "type": "quantitative"},
            "x2": {"datum": 203.8},
            "y": {"field": "p", "type": "quantitative"}
          }
        },
        {
          "data": {"values": [{"p": 4592.8}]},
          "mark": {"type": "bar", "orient": "horizontal", "size": 34, "color": "#089981"},
          "encoding": {
            "x": {"datum": 204, "type": "quantitative"},
            "x2": {"datum": 217.1},
            "y": {"field": "p", "type": "quantitative"}
          }
        },
        {
          "data": {"name": "tags"},
          "mark": {"type": "text", "color": "white", "fontSize": 12.5, "align": "center", "baseline": "middle"},
          "encoding": {
            "x": {"datum": 210.6, "type": "quantitative"},
            "y": {"field": "p", "type": "quantitative"},
            "text": {"field": "t"}
          }
        },
        {
          "data": {"name": "tags"},
          "mark": {"type": "text", "color": "white", "fontSize": 12, "align": "center", "baseline": "middle", "font": "Noto Sans CJK SC"},
          "encoding": {
            "x": {"datum": 199.5, "type": "quantitative"},
            "y": {"field": "p", "type": "quantitative"},
            "text": {"field": "n"}
          }
        },
        {
          "data": {"values": [{"p": 4601.98, "t": "4601.98"}, {"p": 4583.7, "t": "00:52:19"}]},
          "mark": {"type": "text", "color": "white", "fontSize": 12.5, "align": "center", "baseline": "middle"},
          "encoding": {
            "x": {"datum": 210.6, "type": "quantitative"},
            "y": {"field": "p", "type": "quantitative"},
            "text": {"field": "t"}
          }
        }
      ]
    },
    {
      "width": 998,
      "height": 157,
      "layer": [
        {
          "data": {"name": "candles"},
          "mark": {"type": "bar", "size": 3.6, "clip": true},
          "encoding": {
            "x": {"field": "i", "type": "quantitative", "scale": {"domain": [0, 204], "nice": false, "zero": false},
              "axis": {"title": null, "values": [28.6, 89.9, 151], "labels": false, "grid": true, "gridColor": "#eef0f4"}},
            "y": {"field": "m", "type": "quantitative", "scale": {"domain": [-25.45, 45.9], "nice": false, "zero": false},
              "axis": {"title": null, "orient": "right", "values": [-25, 0, 25], "format": ".5f", "labelPadding": 8, "grid": true, "labelOverlap": false, "labelBound": false, "labelFlush": false}},
            "y2": {"datum": 0},
            "color": {"condition": {"test": "datum.m >= 0", "value": "#f23645"}, "value": "#089981"}
          }
        },
        {
          "data": {"name": "macdl"},
          "mark": {"type": "line", "strokeWidth": 1.2, "interpolate": "monotone", "clip": true},
          "encoding": {
            "x": {"field": "i", "type": "quantitative"},
            "y": {"field": "v", "type": "quantitative"},
            "color": {"field": "s", "type": "nominal", "legend": null,
              "scale": {"domain": ["dif","dea"], "range": ["#f7c22f","#e35d5d"]}}
          }
        }
      ]
    },
    {
      "width": 998,
      "height": 158,
      "layer": [
        {
          "data": {"name": "stoch"},
          "mark": {"type": "line", "strokeWidth": 1.2, "clip": true},
          "encoding": {
            "x": {"field": "i", "type": "quantitative", "scale": {"domain": [0, 204], "nice": false, "zero": false},
              "axis": {"values": [28.6, 89.9, 151], "grid": true, "gridColor": "#eef0f4", "labelPadding": 8,
                "labelExpr": "datum.value < 50 ? '08-19 00:00' : datum.value < 120 ? '08-24 19:00' : '08-28 14:00'",
                "title": "15:07:41 (UTC+8)", "titleX": 1056, "titleY": 50, "titleAlign": "right", "titleBaseline": "middle",
                "titleFontSize": 13, "titleFontWeight": "normal", "titleColor": "#131722", "titleFont": "Roboto"}},
            "y": {"field": "v", "type": "quantitative", "scale": {"domain": [-37.6, 132.3], "nice": false, "zero": false},
              "axis": {"title": null, "orient": "right", "values": [0, 100], "format": ".2f", "labelPadding": 12, "grid": true, "labelOverlap": false}},
            "color": {"field": "s", "type": "nominal", "legend": null,
              "scale": {"domain": ["J","K","D"], "range": ["#e5574f","#3f9be8","#f2c440"]}}
          }
        },
        {
          "data": {"values": [{"v": 80}, {"v": 20}]},
          "mark": {"type": "rule", "color": "#2b2bb0", "strokeWidth": 1.3, "strokeDash": [5, 4], "clip": true},
          "encoding": {"y": {"field": "v", "type": "quantitative"}}
        },
        {
          "data": {"values": [{"v": 80}, {"v": 20}]},
          "mark": {"type": "text", "color": "#3434b8", "fontSize": 14, "align": "right", "baseline": "middle"},
          "encoding": {
            "x": {"datum": 203.8, "type": "quantitative"},
            "y": {"field": "v", "type": "quantitative"},
            "text": {"field": "v"}
          }
        },
        {
          "data": {"values": [{"t": "A"}]},
          "mark": {"type": "point", "shape": "circle", "filled": true, "size": 320, "color": "#e0e3eb", "opacity": 1},
          "encoding": {
            "x": {"datum": 210.6, "type": "quantitative"},
            "y": {"datum": -51.6, "type": "quantitative"}
          }
        },
        {
          "data": {"values": [{"t": "A"}]},
          "mark": {"type": "text", "color": "#131722", "fontSize": 11, "align": "center", "baseline": "middle"},
          "encoding": {
            "x": {"datum": 210.6, "type": "quantitative"},
            "y": {"datum": -51.6, "type": "quantitative"},
            "text": {"field": "t"}
          }
        }
      ]
    }
  ]
}
